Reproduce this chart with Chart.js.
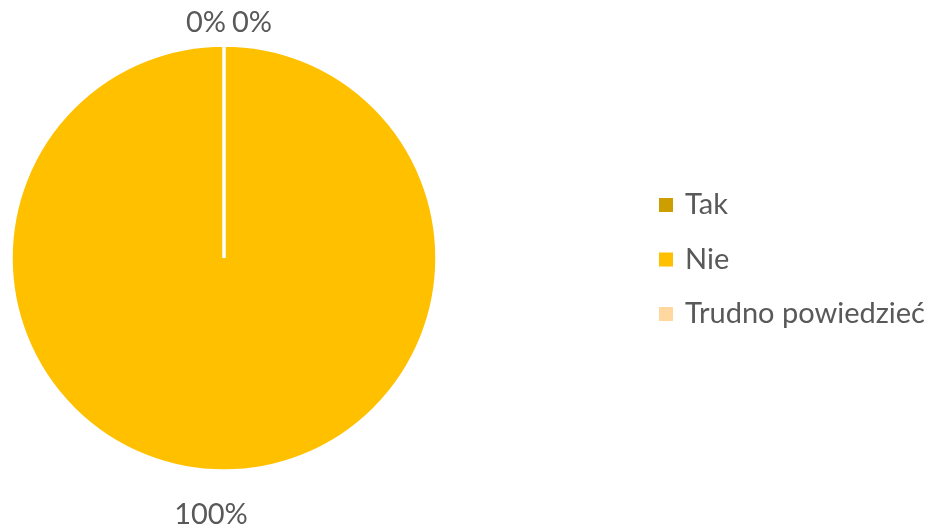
<!DOCTYPE html>
<html>
<head>
<meta charset="utf-8">
<script src="https://cdn.jsdelivr.net/npm/chart.js@4"></script>
<style>
  html, body { margin: 0; padding: 0; background: #fff; }
  #wrap { width: 934px; height: 530px; }
</style>
</head>
<body>
<div id="wrap"><canvas id="chart_odp"></canvas></div>
<script>
const kategorie = ['Tak', 'Nie', 'Trudno powiedzieć'];
const procenty = [0, 100, 0];
const kolory = ['#CC9E00', '#FFC000', '#FFD8A0'];

const FONT = 'Lato, "Open Sans", sans-serif';
const SZARY = '#595959';

// podpisy procentowe na zewnątrz wycinków
const etykiety = {
  id: 'etykiety',
  afterDatasetsDraw(chart) {
    const ctx = chart.ctx;
    const meta = chart.getDatasetMeta(0);
    ctx.save();
    ctx.font = '29px ' + FONT;
    ctx.fillStyle = SZARY;
    ctx.textBaseline = 'middle';
    meta.data.forEach((arc, i) => {
      const v = procenty[i];
      const mid = (arc.startAngle + arc.endAngle) / 2;
      const r = arc.outerRadius + (v === 0 ? 22 : 44);
      let x = arc.x + Math.cos(mid) * r;
      const y = arc.y + Math.sin(mid) * r;
      if (v === 0) {
        // zerowe wycinki stoją na górze, rozsuwamy je na boki
        ctx.textAlign = i === 0 ? 'right' : 'left';
        x += i === 0 ? 2 : 8;
      } else {
        ctx.textAlign = 'center';
        x -= 13;
      }
      ctx.fillText(v + '%', x, y);
    });
    ctx.restore();
  }
};

// legenda z prawej strony, rysowana ręcznie
const legenda = {
  id: 'legenda',
  afterDraw(chart) {
    const ctx = chart.ctx;
    const ds = chart.data.datasets[0];
    const x0 = 659, y0 = 205, krok = 54.5, bok = 14;
    ctx.save();
    ctx.font = '29px ' + FONT;
    ctx.textBaseline = 'middle';
    ctx.textAlign = 'left';
    chart.data.labels.forEach((lab, i) => {
      const y = y0 + i * krok;
      ctx.fillStyle = ds.backgroundColor[i];
      ctx.fillRect(x0, y - bok / 2, bok, bok);
      ctx.fillStyle = SZARY;
      ctx.fillText(lab, x0 + 26, y);
    });
    ctx.restore();
  }
};

new Chart(document.getElementById('chart_odp'), {
  type: 'pie',
  data: {
    labels: kategorie,
    datasets: [{
      data: procenty,
      backgroundColor: kolory,
      borderColor: '#ffffff',
      borderWidth: 3.5
    }]
  },
  options: {
    responsive: true,
    maintainAspectRatio: false,
    animation: false,
    radius: 213,
    layout: { padding: { left: 11, top: 45, bottom: 59, right: 497 } },
    plugins: {
      tooltip: { enabled: false },
      legend: { display: false }
    }
  },
  plugins: [etykiety, legenda]
});
</script>
</body>
</html>
